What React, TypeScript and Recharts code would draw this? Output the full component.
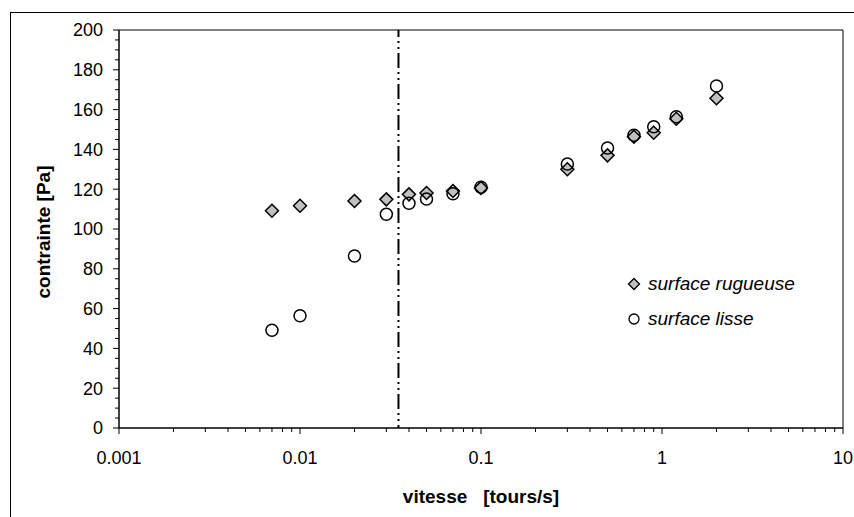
import { ScatterChart, Scatter, XAxis, YAxis, ReferenceLine, Legend } from 'recharts';

// rotation speed [tours/s] — shared by both series
const SPEED = [0.007, 0.01, 0.02, 0.03, 0.04, 0.05, 0.07, 0.1, 0.3, 0.5, 0.7, 0.9, 1.2, 2];
// stress [Pa], rough surface
const STRESS_ROUGH = [109.2, 111.7, 114.1, 114.9, 117.4, 118.1, 119.1, 120.6, 130.0, 137.0, 146.4, 148.4, 155.4, 165.7];
// stress [Pa], smooth surface
const STRESS_SMOOTH = [49.1, 56.4, 86.4, 107.4, 112.9, 115.1, 117.7, 121.0, 132.7, 140.7, 147.1, 151.4, 156.4, 171.9];

const CRITICAL_SPEED = 0.035;

const X_TICKS = [
    0.001, 0.002, 0.003, 0.004, 0.005, 0.006, 0.007, 0.008, 0.009,
    0.01, 0.02, 0.03, 0.04, 0.05, 0.06, 0.07, 0.08, 0.09,
    0.1, 0.2, 0.3, 0.4, 0.5, 0.6, 0.7, 0.8, 0.9,
    1, 2, 3, 4, 5, 6, 7, 8, 9,
    10,
];
const X_LABELS = [0.001, 0.01, 0.1, 1, 10];

const Y_TICKS = [
    0, 5, 10, 15, 20, 25, 30, 35, 40, 45, 50, 55, 60, 65, 70, 75, 80, 85, 90, 95, 100,
    105, 110, 115, 120, 125, 130, 135, 140, 145, 150, 155, 160, 165, 170, 175, 180, 185, 190, 195, 200,
];
const Y_LABELS = [0, 20, 40, 60, 80, 100, 120, 140, 160, 180, 200];

const FONT = '"Liberation Sans", Arial, Helvetica, sans-serif';
const DIAMOND_FILL = '#c0c0c0';

const roughData = SPEED.map((x, i) => ({ x, y: STRESS_ROUGH[i] }));
const smoothData = SPEED.map((x, i) => ({ x, y: STRESS_SMOOTH[i] }));

const isMajor = (list: number[], v: number) => list.some((m) => Math.abs(m - v) < m * 1e-6 + 1e-9);

function XTick({ x, y, payload }: any) {
    const major = isMajor(X_LABELS, payload.value);
    return (
        <g>
            <line x1={x} x2={x} y1={y} y2={y + (major ? 6 : 4)} stroke="#000" strokeWidth={1} />
            {major && (
                <text x={x} y={y + 30} dy="0.355em" textAnchor="middle" fontSize={18} fontFamily={FONT} fill="#000">
                    {String(payload.value)}
                </text>
            )}
        </g>
    );
}

function YTick({ x, y, payload }: any) {
    const major = isMajor(Y_LABELS, payload.value);
    return (
        <g>
            <line x1={x - (major ? 6 : 4)} x2={x} y1={y} y2={y} stroke="#000" strokeWidth={1} />
            {major && (
                <text x={x - 16} y={y} dy="0.355em" textAnchor="end" fontSize={18} fontFamily={FONT} fill="#000">
                    {payload.value}
                </text>
            )}
        </g>
    );
}

const Diamond = ({ cx, cy }: any) => (
    <path
        d={`M${cx},${cy - 6.5} L${cx + 6.5},${cy} L${cx},${cy + 6.5} L${cx - 6.5},${cy} Z`}
        fill={DIAMOND_FILL}
        stroke="#000"
        strokeWidth={1.5}
    />
);

const Ring = ({ cx, cy }: any) => (
    <circle cx={cx} cy={cy} r={6} fill="none" stroke="#000" strokeWidth={1.5} />
);

function LegendBox() {
    const row = { display: 'flex', alignItems: 'center', height: 35 } as const;
    const label = { fontFamily: FONT, fontStyle: 'italic', fontSize: 19, color: '#000', marginLeft: 6, whiteSpace: 'nowrap' } as const;
    return (
        <div>
            <div style={row}>
                <svg width={16} height={16}>
                    <path d="M8,2.5 L13.5,8 L8,13.5 L2.5,8 Z" fill={DIAMOND_FILL} stroke="#000" strokeWidth={1.3} />
                </svg>
                <span style={label}>surface rugueuse</span>
            </div>
            <div style={row}>
                <svg width={16} height={16}>
                    <circle cx={8} cy={8} r={5} fill="none" stroke="#000" strokeWidth={1.3} />
                </svg>
                <span style={label}>surface lisse</span>
            </div>
        </div>
    );
}

export default function App() {
    return (
        <div style={{ position: 'fixed', left: 0, top: 0, width: 854, height: 517, overflow: 'hidden', background: '#fff' }}>
            {/* outer frame of the whole chart */}
            <div
                style={{
                    position: 'absolute',
                    left: 10,
                    top: 12,
                    width: 844,
                    height: 505,
                    borderLeft: '1.5px solid #000',
                    borderTop: '1.5px solid #000',
                    boxSizing: 'border-box',
                }}
            />
            <div style={{ position: 'absolute', left: 0, top: 0 }}>
                <ScatterChart width={854} height={517} margin={{ top: 30, right: 11, bottom: 9, left: 39 }}>
                    <XAxis
                        type="number"
                        dataKey="x"
                        scale="log"
                        domain={[0.001, 10]}
                        ticks={X_TICKS}
                        interval={0}
                        allowDataOverflow
                        height={80}
                        tickSize={0}
                        tickMargin={0}
                        tickLine={false}
                        axisLine={{ stroke: '#000', strokeWidth: 1.5 }}
                        tick={<XTick />}
                        label={(p: any) => {
                            const vb = p.viewBox;
                            return (
                                <text
                                    x={vb.x + vb.width / 2}
                                    y={vb.y + 68}
                                    dy="0.355em"
                                    textAnchor="middle"
                                    fontSize={19}
                                    fontWeight="bold"
                                    fontFamily={FONT}
                                    fill="#000"
                                    style={{ whiteSpace: 'pre' }}
                                >
                                    {'vitesse   [tours/s]'}
                                </text>
                            );
                        }}
                    />
                    <YAxis
                        type="number"
                        dataKey="y"
                        domain={[0, 200]}
                        ticks={Y_TICKS}
                        interval={0}
                        width={80}
                        tickSize={0}
                        tickMargin={0}
                        tickLine={false}
                        axisLine={{ stroke: '#000', strokeWidth: 1.5 }}
                        tick={<YTick />}
                        label={(p: any) => {
                            const vb = p.viewBox;
                            const cx = vb.x + 4;
                            const cy = vb.y + vb.height / 2 + 3;
                            return (
                                <text
                                    x={cx}
                                    y={cy}
                                    dy="0.355em"
                                    transform={`rotate(-90, ${cx}, ${cy})`}
                                    textAnchor="middle"
                                    fontSize={19}
                                    fontWeight="bold"
                                    fontFamily={FONT}
                                    fill="#000"
                                >
                                    contrainte [Pa]
                                </text>
                            );
                        }}
                    />
                    {/* plot frame: top and right edges */}
                    <ReferenceLine y={200} stroke="#000" strokeWidth={1} />
                    <ReferenceLine x={10} stroke="#000" strokeWidth={1} />
                    {/* dash-dot-dot marker of the critical speed */}
                    <ReferenceLine
                        x={CRITICAL_SPEED}
                        stroke="#000"
                        strokeWidth={2}
                        strokeDasharray="15 4 2 4 2 4"
                        strokeDashoffset={12}
                    />
                    <Scatter name="surface rugueuse" data={roughData} shape={<Diamond />} isAnimationActive={false} />
                    <Scatter name="surface lisse" data={smoothData} shape={<Ring />} isAnimationActive={false} />
                    <Legend
                        layout="vertical"
                        align="center"
                        verticalAlign="middle"
                        content={<LegendBox />}
                        wrapperStyle={{ left: 626, top: 266, width: 'auto', height: 'auto' }}
                    />
                </ScatterChart>
            </div>
        </div>
    );
}
